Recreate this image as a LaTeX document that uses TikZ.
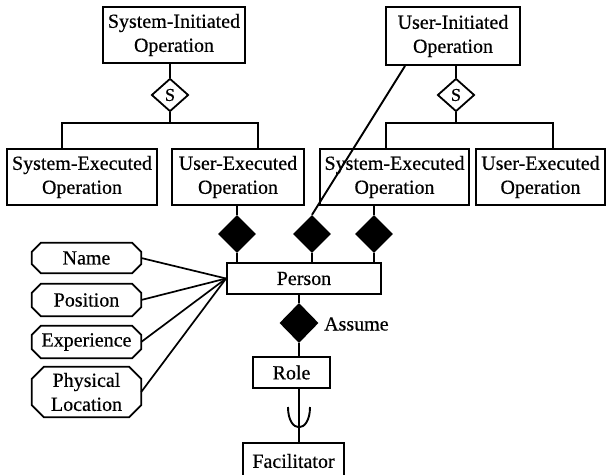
\documentclass[tikz,border=0pt]{standalone}
\usepackage{fontspec}
\setmainfont[FakeBold=0.5]{Liberation Serif}
\usetikzlibrary{shapes.geometric}
% octagonal outline round an attribute node: #1 node name, #2 corner cut
\newcommand\chamferoutline[2]{%
  \draw[line width=1.7pt]
    ([xshift=#2]#1.north west) -- ([xshift=-#2]#1.north east)
    -- ([yshift=-#2]#1.north east) -- ([yshift=#2]#1.south east)
    -- ([xshift=-#2]#1.south east) -- ([xshift=#2]#1.south west)
    -- ([yshift=#2]#1.south west) -- ([yshift=-#2]#1.north west) -- cycle;}
\begin{document}
\begin{tikzpicture}[x=1pt,y=-1pt,
  every node/.style={font=\fontsize{20}{24}\selectfont, inner sep=0pt, align=center},
  entity/.style={draw, rectangle, line width=1.9pt, fill=white, minimum height=56},
  sdiam/.style={draw, diamond, line width=1.8pt, fill=white, minimum width=37,
    minimum height=33, font=\fontsize{18}{20}\selectfont},
  bdiam/.style={diamond, fill=black, minimum width=38, minimum height=38},
  attr/.style={rectangle, minimum width=109},
  conn/.style={line width=1.9pt},
  attrline/.style={line width=1.7pt}]
\useasboundingbox (0,0) rectangle (607,474);
\clip (0,0) rectangle (607,474);

% left hierarchy
\node[entity, minimum width=142] (sinit) at (174,35) {System-Initiated\\Operation};
\node[sdiam] (s1) at (170,95) {S};
\node[entity, minimum width=150] (se1) at (82,177) {System-Executed\\Operation};
\node[entity, minimum width=132] (ue1) at (238,177) {User-Executed\\Operation};
\coordinate (h1l) at (62,123);
\coordinate (h1r) at (258,123);
\draw[conn] (s1.north) -- (s1.north |- sinit.south);
\draw[conn] (s1.south) -- (s1.south |- h1l);
\draw[conn] (se1.north -| h1l) -- (h1l) -- (h1r) -- (h1r |- ue1.north);

% right hierarchy
\node[entity, minimum width=134, minimum height=58] (uinit) at (453,36) {User-Initiated\\Operation};
\node[sdiam] (s2) at (456,95) {S};
\node[entity, minimum width=149] (se2) at (394.5,177) {System-Executed\\Operation};
\node[entity, minimum width=129] (ue2) at (540.5,177) {User-Executed\\Operation};
\coordinate (h2l) at (386,123);
\coordinate (h2r) at (553,123);
\draw[conn] (s2.north) -- (s2.north |- uinit.south);
\draw[conn] (s2.south) -- (s2.south |- h2l);
\draw[conn] (se2.north -| h2l) -- (h2l) -- (h2r) -- (h2r |- ue2.north);

% person and its relationships
\node[entity, minimum width=154, minimum height=31] (person) at (304,278.5) {Person};
\node[bdiam] (d1) at (237,234) {};
\node[bdiam] (d2) at (312,234) {};
\node[bdiam] (d3) at (374,234) {};
\draw[conn] (d1.north) -- (d1.north |- ue1.south);
\draw[conn] (d3.north) -- (d3.north |- se2.south);
\foreach \d in {d1,d2,d3} \draw[conn] (\d.south) -- (\d.south |- person.north);
\draw[conn] ([xshift=-48pt]uinit.south) -- (d2.north);

% attributes
\node[attr, minimum height=30] (nm) at (86.5,258) {Name};
\node[attr, minimum height=32] (pos) at (86.5,300) {Position};
\node[attr, minimum height=32] (exp) at (86.5,342) {Experience};
\node[attr, minimum height=50] (loc) at (86.5,392) {Physical\\Location};
\chamferoutline{nm}{9pt}
\chamferoutline{pos}{9pt}
\chamferoutline{exp}{9pt}
\chamferoutline{loc}{12pt}
\foreach \a in {nm,pos,exp,loc} \draw[attrline] (\a.east) -- (person.west);

% role
\node[bdiam, minimum width=39, minimum height=40] (assume) at (299,323) {};
\node[anchor=west] (assumelbl) at (324,324) {Assume};
\node[entity, minimum width=77, minimum height=31] (role) at (291.5,372.5) {Role};
\node[entity, minimum width=101, minimum height=36] (fac) at (293.5,461) {Facilitator};
\draw[conn] (assume.north) -- (assume.north |- person.south);
\draw[conn] (assume.south) -- (assume.south |- role.north);
\draw[conn] (role.south -| assume.south) -- (assume.south |- fac.north);
% subset mark on the role-facilitator link
\draw[conn] (288,407) .. controls (288,434) and (310,434) .. (310,407);
\end{tikzpicture}
\end{document}
